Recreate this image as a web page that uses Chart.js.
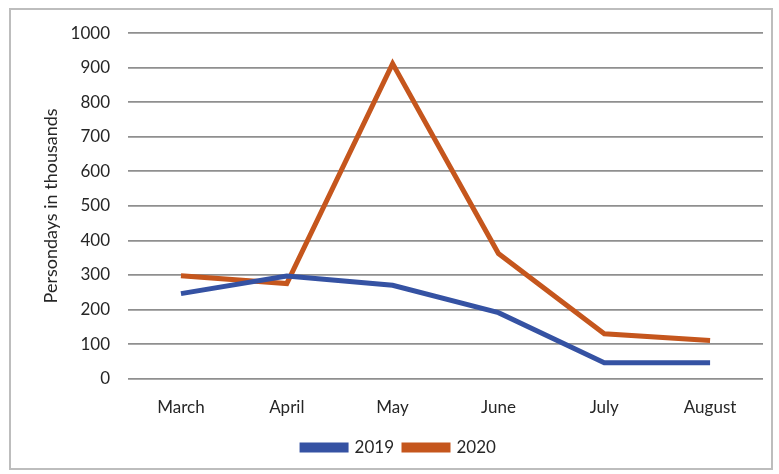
<!DOCTYPE html>
<html>
<head>
<meta charset="utf-8">
<script src="https://cdn.jsdelivr.net/npm/chart.js@4.4.0/dist/chart.umd.min.js"></script>
<style>
  html, body { margin: 0; padding: 0; background: #fff; }
  #frame {
    position: absolute; left: 9px; top: 8px;
    width: 760px; height: 458px;
    border: 2px solid #bdbdbd; background: #fff;
  }
  #chart { position: absolute; left: 11px; top: 5px; display: block; }
</style>
</head>
<body>
<div id="frame"></div>
<canvas id="chart" width="760" height="463"></canvas>
<script>
/* Persondays chart, 2019 vs 2020 */

const months = ['March', 'April', 'May', 'June', 'July', 'August'];
const values2019 = [246, 297, 270, 191, 46, 46];
const values2020 = [298, 275, 912, 362, 130, 110];
const yTicks = [0, 100, 200, 300, 400, 500, 600, 700, 800, 900, 1000];

const blue = '#3552a3';
const orange = '#c5561d';
const tickFont = { family: 'Lato', size: 17 };

const ctx = document.getElementById('chart').getContext('2d');

new Chart(ctx, {
  type: 'line',
  data: {
    labels: months,
    datasets: [
      {
        label: '2019',
        data: values2019,
        borderColor: blue,
        backgroundColor: blue,
        borderWidth: 5,
        pointRadius: 0,
        tension: 0
      },
      {
        label: '2020',
        data: values2020,
        borderColor: orange,
        backgroundColor: orange,
        borderWidth: 5,
        pointRadius: 0,
        tension: 0
      }
    ]
  },
  options: {
    responsive: false,
    animation: false,
    layout: { padding: { left: 24, right: 8, top: 5, bottom: 2 } },
    scales: {
      x: {
        offset: true,
        grid: { display: false },
        border: { display: false },
        ticks: { color: '#262626', font: tickFont, padding: 11 }
      },
      y: {
        min: 0,
        max: 1000,
        afterBuildTicks: axis => { axis.ticks = yTicks.map(v => ({ value: v })); },
        grid: { color: '#8f8f8f', lineWidth: 1.8, drawTicks: false },
        border: { display: false },
        ticks: { color: '#262626', font: tickFont, padding: 18, callback: v => String(v) },
        title: {
          display: true,
          text: 'Persondays in thousands',
          color: '#262626',
          font: { family: 'Lato', size: 18 },
          padding: { top: 5, bottom: -9 }
        }
      }
    },
    plugins: {
      legend: {
        position: 'bottom',
        labels: {
          color: '#262626',
          font: tickFont,
          boxWidth: 44,
          boxHeight: 5,
          padding: 10
        }
      },
      tooltip: { enabled: false }
    }
  }
});
</script>
</body>
</html>
